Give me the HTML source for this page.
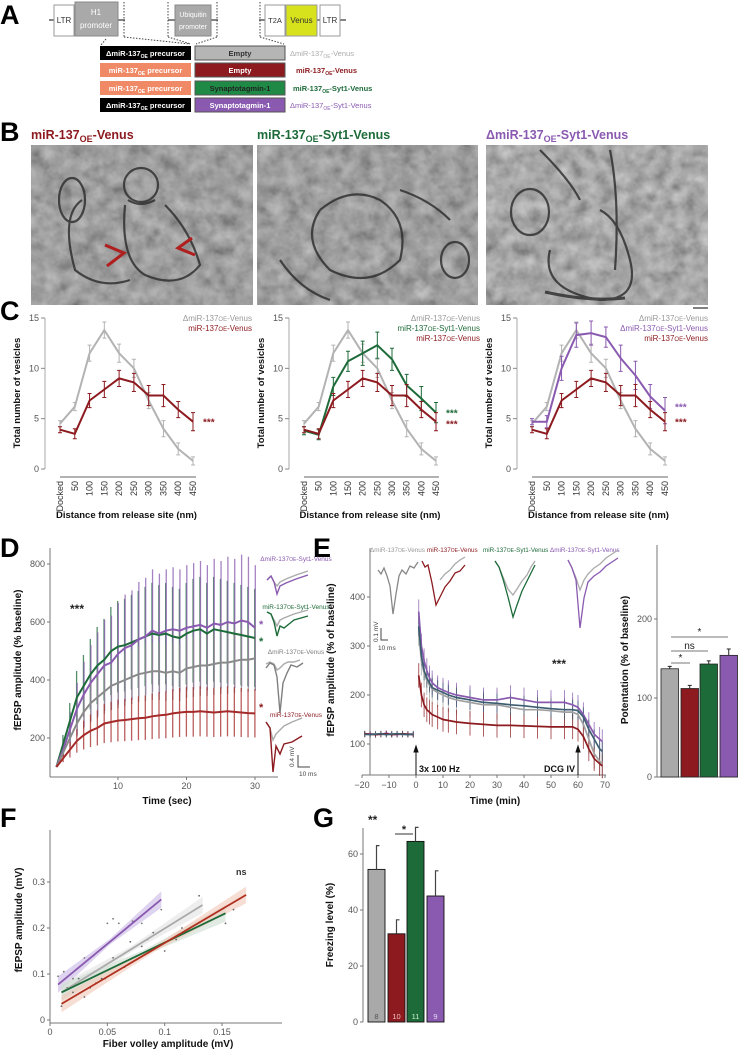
<!DOCTYPE html>
<html><head><meta charset="utf-8"><style>
html,body{margin:0;padding:0;background:#fff;}
svg{display:block;font-family:"Liberation Sans",Arial,sans-serif;}
</style></head><body>
<svg id="fig" width="738" height="1050" viewBox="0 0 738 1050" xmlns="http://www.w3.org/2000/svg">
<defs>
<filter id="em" x="0" y="0" width="100%" height="100%">
<feTurbulence type="fractalNoise" baseFrequency="0.07" numOctaves="3" seed="4"/>
<feColorMatrix type="matrix" values="0.33 0.33 0.33 0 0 0.33 0.33 0.33 0 0 0.33 0.33 0.33 0 0 0 0 0 0 1"/>
<feComponentTransfer><feFuncR type="linear" slope="1.3" intercept="-0.08"/><feFuncG type="linear" slope="1.3" intercept="-0.08"/><feFuncB type="linear" slope="1.3" intercept="-0.08"/><feFuncA type="linear" slope="0" intercept="1"/></feComponentTransfer>
</filter>
</defs>
<rect width="738" height="1050" fill="#fff"/>

<g font-weight="bold" font-size="27" fill="#000">
<text x="0" y="24">A</text>
<text x="0" y="141">B</text>
<text x="0" y="320">C</text>
<text x="0" y="557">D</text>
<text x="313" y="557">E</text>
<text x="0" y="827">F</text>
<text x="313" y="827">G</text>
</g>

<g>
<g stroke="#333" stroke-width="1.2">
<line x1="49" y1="20" x2="54" y2="20"/><line x1="118" y1="20" x2="125" y2="20"/>
<line x1="168" y1="20" x2="175" y2="20"/><line x1="211" y1="20" x2="218" y2="20"/>
<line x1="259" y1="20" x2="265" y2="20"/><line x1="285" y1="20" x2="286" y2="20"/>
<line x1="317" y1="20" x2="320" y2="20"/><line x1="340" y1="20" x2="346" y2="20"/>
</g>
<rect x="54" y="5" width="20" height="31" fill="#fff" stroke="#999"/>
<text x="64" y="23" font-size="8" text-anchor="middle" fill="#333">LTR</text>
<rect x="75" y="2" width="43" height="34" fill="#a9a9a9" stroke="#888"/>
<text x="96" y="15" font-size="8" text-anchor="middle" fill="#fff">H1</text>
<text x="96" y="28" font-size="8" text-anchor="middle" fill="#fff">promoter</text>
<rect x="175" y="5" width="36" height="31" fill="#a9a9a9" stroke="#888"/>
<text x="193" y="17" font-size="7" text-anchor="middle" fill="#fff">Ubiquitin</text>
<text x="193" y="29" font-size="7" text-anchor="middle" fill="#fff">promoter</text>
<rect x="265" y="5" width="20" height="31" fill="#fff" stroke="#999"/>
<text x="275" y="23" font-size="7.5" text-anchor="middle" fill="#333">T2A</text>
<rect x="286" y="5" width="31" height="31" fill="#d8e21c" stroke="#999"/>
<text x="301.5" y="23" font-size="8" text-anchor="middle" fill="#333">Venus</text>
<rect x="320" y="5" width="20" height="31" fill="#fff" stroke="#999"/>
<text x="330" y="23" font-size="8" text-anchor="middle" fill="#333">LTR</text>
<g stroke="#444" stroke-dasharray="1.5,1.5" fill="none">
<line x1="124" y1="2" x2="124" y2="37"/><line x1="168" y1="2" x2="168" y2="37"/><line x1="217" y1="2" x2="217" y2="37"/><line x1="260" y1="2" x2="260" y2="37"/>
<line x1="106" y1="39" x2="101" y2="45"/><line x1="124" y1="37" x2="190" y2="44"/>
<line x1="168" y1="37" x2="191" y2="44"/><line x1="217" y1="37" x2="196" y2="44"/>
<line x1="260" y1="37" x2="284" y2="44"/>
</g>
<g font-size="7.5" font-weight="bold">
<rect x="100" y="46" width="91" height="14" fill="#000"/>
<text x="145.5" y="56" text-anchor="middle" fill="#fff">ΔmiR-137<tspan font-size="5" dy="2">OE</tspan><tspan dy="-2"> precursor</tspan></text>
<rect x="195" y="46" width="90" height="14" fill="#b5b5b5" stroke="#555"/>
<text x="240" y="56" text-anchor="middle" fill="#333">Empty</text>
<text x="290" y="56" fill="#aaa" font-weight="normal">ΔmiR-137<tspan font-size="5" dy="2">OE</tspan><tspan dy="-2">-Venus</tspan></text>

<rect x="100" y="63" width="91" height="14" fill="#f08a66"/>
<text x="145.5" y="73" text-anchor="middle" fill="#fff">miR-137<tspan font-size="5" dy="2">OE</tspan><tspan dy="-2"> precursor</tspan></text>
<rect x="195" y="63" width="90" height="14" fill="#8c1a1f" stroke="#555"/>
<text x="240" y="73" text-anchor="middle" fill="#fff">Empty</text>
<text x="296" y="73" fill="#8c1a1f">miR-137<tspan font-size="5" dy="2">OE</tspan><tspan dy="-2">-Venus</tspan></text>

<rect x="100" y="81" width="91" height="14" fill="#f08a66"/>
<text x="145.5" y="91" text-anchor="middle" fill="#fff">miR-137<tspan font-size="5" dy="2">OE</tspan><tspan dy="-2"> precursor</tspan></text>
<rect x="195" y="81" width="90" height="14" fill="#1f8a46" stroke="#555"/>
<text x="240" y="91" text-anchor="middle" fill="#222">Synaptotagmin-1</text>
<text x="293" y="91" fill="#1e6b3a">miR-137<tspan font-size="5" dy="2">OE</tspan><tspan dy="-2">-Syt1-Venus</tspan></text>

<rect x="100" y="98" width="91" height="14" fill="#000"/>
<text x="145.5" y="108" text-anchor="middle" fill="#fff">ΔmiR-137<tspan font-size="5" dy="2">OE</tspan><tspan dy="-2"> precursor</tspan></text>
<rect x="195" y="98" width="90" height="14" fill="#8a5ab0" stroke="#555"/>
<text x="240" y="108" text-anchor="middle" fill="#fff">Synaptotagmin-1</text>
<text x="290" y="108" fill="#8a5ab0" font-weight="normal">ΔmiR-137<tspan font-size="5" dy="2">OE</tspan><tspan dy="-2">-Syt1-Venus</tspan></text>
</g>
</g>

<g font-size="12.5" font-weight="bold">
<text x="31" y="139" fill="#8c1a1f">miR-137<tspan font-size="9" dy="3">OE</tspan><tspan dy="-3">-Venus</tspan></text>
<text x="257" y="139" fill="#1e6b3a">miR-137<tspan font-size="9" dy="3">OE</tspan><tspan dy="-3">-Syt1-Venus</tspan></text>
<text x="486" y="139" fill="#8a5ab0">ΔmiR-137<tspan font-size="9" dy="3">OE</tspan><tspan dy="-3">-Syt1-Venus</tspan></text>
<rect x="31" y="145" width="222" height="160" filter="url(#em)"/>
<rect x="257" y="145" width="221" height="160" filter="url(#em)"/>
<rect x="486" y="145" width="222" height="160" filter="url(#em)"/>
<rect x="31" y="145" width="222" height="160" fill="#4a4a4a" opacity="0.32"/>
<rect x="257" y="145" width="221" height="160" fill="#4a4a4a" opacity="0.32"/>
<rect x="486" y="145" width="222" height="160" fill="#4a4a4a" opacity="0.25"/>
<g fill="none" stroke="#2a2a2a" stroke-width="2.2" opacity="0.8">
<circle cx="141" cy="185" r="17"/><path d="M128 200 Q 140 208 155 200"/><path d="M82 200 Q 60 215 75 270 Q 100 290 130 280"/>
<path d="M125 205 Q 120 260 145 275 Q 180 290 200 265 Q 190 230 165 205"/><ellipse cx="72" cy="200" rx="13" ry="22"/>
<path d="M320 210 Q 300 240 330 270 Q 370 290 400 260 Q 410 220 380 200 Q 350 185 320 210"/><ellipse cx="455" cy="260" rx="14" ry="18"/>
<path d="M280 260 Q 300 290 330 300"/><path d="M400 190 Q 430 200 450 220"/>
<ellipse cx="530" cy="212" rx="19" ry="23"/><path d="M550 250 Q 540 290 600 300 Q 640 300 630 260 Q 620 220 600 210"/>
<path d="M545 292 Q 590 302 625 298" stroke-width="3"/><path d="M610 150 Q 620 200 615 270"/><path d="M540 150 Q 570 180 580 200"/>
</g>
<g stroke="#b01e1e" stroke-width="3" fill="none">
<path d="M105 245 L 124 253 L 107 266"/><path d="M192 238 L 178 248 L 195 255"/>
</g>
<line x1="693" y1="308" x2="708" y2="308" stroke="#555" stroke-width="1.5"/>
</g>

<g id="plots"></g>
</svg>
<script>
// ===== Panel C data =====
const cCategories = ["Docked","50","100","150","200","250","300","350","400","450"];
const cGray   = [4.5, 6.2, 11.5, 13.8, 11.5, 10.0, 6.8, 4.0, 2.0, 0.8];
const cGrayErr= [0.3, 0.4, 0.8, 0.8, 0.9, 0.9, 0.8, 0.8, 0.6, 0.4];
const cRed    = [3.9, 3.5, 6.8, 7.9, 9.0, 8.6, 7.3, 7.3, 5.9, 4.7];
const cRedErr = [0.3, 0.5, 0.7, 0.8, 0.8, 0.9, 1.0, 1.1, 0.8, 0.9];
const cGreen  = [3.8, 3.4, 8.2, 10.7, 11.5, 12.3, 10.9, 8.3, 7.0, 5.6];
const cGreenErr=[0.4, 0.5, 0.9, 1.0, 1.2, 1.3, 1.1, 1.1, 1.2, 1.0];
const cPurple = [4.7, 4.7, 10.0, 13.3, 13.5, 13.1, 11.0, 9.3, 7.2, 5.8];
const cPurpleErr=[0.3, 0.6, 1.2, 1.2, 1.2, 1.0, 1.3, 1.4, 1.2, 1.3];
const cYTicks = [0, 5, 10, 15];

// ===== Panel D data =====
const dTime = [1,2,3,4,5,6,7,8,9,10,11,12,13,14,15,16,17,18,19,20,21,22,23,24,25,26,27,28,29,30];
const dGreen  = [100,180,260,340,380,420,450,470,500,515,520,530,540,550,560,555,560,550,545,560,570,575,560,575,570,565,560,555,550,545];
const dPurple = [100,160,230,300,350,390,420,450,460,490,510,520,540,550,570,560,570,575,570,580,585,590,580,595,590,600,595,605,600,580];
const dGray   = [100,150,200,250,290,320,340,360,380,390,400,410,420,425,430,430,425,430,425,440,445,450,450,455,460,460,465,470,470,475];
const dRed    = [100,130,160,190,210,225,235,250,255,260,262,265,268,270,275,278,280,285,288,290,290,292,290,288,290,292,290,288,286,285];
const dErrFrac = [0.38, 0.45, 0.3, 0.45];
const dYTicks = [200, 400, 600, 800];
const dXTicks = [10, 20, 30];

// ===== Panel E data =====
const eTime = [-19,-17,-15,-13,-11,-9,-7,-5,-3,-1,1,2,3,4,5,6,8,10,12,15,20,25,30,35,40,45,50,55,58,60,62,64,66,68,69];
const ePurple = [120,121,119,120,122,120,119,121,120,120,370,300,270,250,235,225,215,210,205,200,195,190,190,195,190,185,185,185,180,175,160,140,120,110,105];
const eGray   = [119,120,121,119,120,121,120,119,120,121,330,270,245,230,220,212,205,200,195,190,185,180,180,175,170,170,168,165,165,160,140,110,80,65,60];
const eGreen  = [120,119,120,121,119,120,121,120,119,120,340,280,250,235,225,215,210,205,200,195,190,185,183,180,178,175,172,170,170,168,155,130,110,90,85];
const eRed    = [121,120,119,120,121,119,120,121,120,119,240,200,180,170,165,160,155,150,148,145,142,140,138,138,137,136,135,135,135,130,115,90,70,60,55];
const eErr = [30, 25, 25, 20];
const eYTicks = [100, 200, 300, 400];
const eXTicks = [-20,-10,0,10,20,30,40,50,60,70];
const potLabels = ["dmiR","miR","miR-Syt1","dmiR-Syt1"];
const potValues = [137, 112, 143, 154];
const potErr = [3, 4, 4, 8];
const potYTicks = [0, 100, 200];

// ===== Panel F data =====
const fPurpleX = [0.007,0.012,0.02,0.03,0.038,0.05,0.055,0.06,0.072,0.08,0.097];
const fPurpleY = [0.095,0.105,0.09,0.135,0.14,0.21,0.22,0.21,0.215,0.21,0.24];
const fOtherX = [0.01,0.015,0.02,0.025,0.03,0.035,0.04,0.045,0.048,0.055,0.06,0.065,0.07,0.08,0.085,0.09,0.1,0.11,0.115,0.13,0.153,0.16];
const fOtherY = [0.03,0.07,0.06,0.09,0.05,0.07,0.08,0.09,0.09,0.135,0.12,0.115,0.17,0.16,0.175,0.19,0.15,0.175,0.2,0.27,0.21,0.24];
const fLineX0 = [0.007, 0.01, 0.01, 0.01];
const fLineY0 = [0.077, 0.06, 0.06, 0.035];
const fLineX1 = [0.097, 0.133, 0.153, 0.171];
const fLineY1 = [0.262, 0.25, 0.232, 0.272];
const fXTicks = [0, 0.05, 0.1, 0.15];
const fYTicks = [0, 0.1, 0.2, 0.3];

// ===== Panel G data =====
const gValues = [54.5, 31.5, 64.5, 45];
const gErr = [8.5, 5, 5, 9];
const gN = ["8","10","11","9"];
const gYTicks = [0, 20, 40, 60];

const COL = {gray:"#b3b3b3", dgray:"#7f7f7f", red:"#8c1a1f", green:"#1e6b3a", purple:"#8a5ab0"};
const NS = "http://www.w3.org/2000/svg";
const root = document.getElementById("plots");
function mk(tag, attrs, parent) {
  const e = document.createElementNS(NS, tag);
  for (const k in attrs) e.setAttribute(k, attrs[k]);
  (parent || root).appendChild(e);
  return e;
}
function txt(x, y, s, size, parent, extra) {
  const e = mk("text", Object.assign({x:x, y:y, "font-size":size, fill:"#333"}, extra || {}), parent);
  e.textContent = s;
  return e;
}
function poly(pts) { return pts.map(p => p[0].toFixed(1) + "," + p[1].toFixed(1)).join(" "); }

function drawC(x0, x1, series, titleX, legends, legendX, starSpecs, key) {
  const g = mk("g", {});
  
  
  const xs = i => x0 + i * (x1 - x0) / (cCategories.length - 1);
  const ys = v => 469 - v * (151 / 15);
  const ax = mk("line", {x1:x0-15, y1:318, x2:x0-15, y2:469, stroke:"#aaa"}, g);
  
  
  cYTicks.forEach(v => {
    const t = mk("line", {x1:x0-19, y1:ys(v), x2:x0-15, y2:ys(v), stroke:"#888"}, g);
    
    
    const l = txt(x0-21, ys(v)+3, String(v), 9, g, {"text-anchor":"end", fill:"#555"});
    
    
  });
  const xa = mk("line", {x1:x0, y1:477, x2:x1+3, y2:477, stroke:"#999", "stroke-width":1.5}, g);
  
  
  cCategories.forEach((c, i) => {
    const l = txt(0, 0, c, 9, g, {transform:`translate(${xs(i)+3},${481}) rotate(-90)`, "text-anchor":"end", fill:"#333"});
    
    
  });
  const xt = txt((x0+x1)/2, 518, "Distance from release site (nm)", 9.5, g, {"text-anchor":"middle", "font-weight":"bold", fill:"#111"});
  
  
  const yt = txt(0, 0, "Total number of vesicles", 9.5, g, {transform:`translate(${titleX},${393}) rotate(-90)`, "text-anchor":"middle", "font-weight":"bold", fill:"#111"});
  
  
  series.forEach(s => {
    const sg = mk("g", {}, g);
    
    
    s.vals.forEach((v, i) => {
      const e = mk("path", {d:`M${xs(i)},${ys(v-s.err[i])}V${ys(v+s.err[i])}M${xs(i)-2},${ys(v-s.err[i])}h4M${xs(i)-2},${ys(v+s.err[i])}h4`, stroke:s.col, "stroke-width":1, fill:"none"}, sg);
      
      
    });
    const pl = mk("polyline", {points:poly(s.vals.map((v,i)=>[xs(i),ys(v)])), fill:"none", stroke:s.col, "stroke-width":2}, sg);
    
    
  });
  legends.forEach((L, i) => {
    const t = txt(legendX, 321 + i*10, "", 8, g, {"text-anchor":"end", fill:L.col});
    t.innerHTML = L.pre + 'miR-137<tspan font-size="6">OE</tspan>' + L.post;
    
    
  });
  starSpecs.forEach(s => {
    const t = txt(x1+10, ys(s.v)+4, "***", 10, g, {fill:s.col, "font-weight":"bold"});
    
    
  });
}
const sGray = {name:"dmir-venus", vals:cGray, err:cGrayErr, col:COL.gray};
const sRed = {name:"mir-venus", vals:cRed, err:cRedErr, col:COL.red};
const sGreen = {name:"mir-syt1-venus", vals:cGreen, err:cGreenErr, col:COL.green};
const sPurple = {name:"dmir-syt1-venus", vals:cPurple, err:cPurpleErr, col:COL.purple};
const LG = {pre:"Δ", post:"-Venus", col:"#999"}, LR = {pre:"", post:"-Venus", col:COL.red};
drawC(60, 193, [sGray, sRed], 20, [LG, LR], 252, [{v:cRed[9], col:COL.red}], "1");
drawC(304, 436, [sGray, sGreen, sRed], 264, [LG, {pre:"", post:"-Syt1-Venus", col:COL.green}, LR], 480, [{v:cGreen[9], col:COL.green},{v:cRed[9]-0.2, col:COL.red}], "2");
drawC(532, 665, [sGray, sPurple, sRed], 492, [LG, {pre:"Δ", post:"-Syt1-Venus", col:COL.purple}, LR], 708, [{v:cPurple[9]+0.4, col:COL.purple},{v:cRed[9], col:COL.red}], "3");

(function(){
  const g = mk("g", {});
  
  
  const xs = t => 49.5 + 6.85 * t;
  const ys = v => 767 - (v - 100) * 0.29;
  const ya = mk("line", {x1:50, y1:548, x2:50, y2:777, stroke:"#777"}, g);
  
  
  const xa = mk("line", {x1:50, y1:777, x2:278, y2:777, stroke:"#777"}, g);
  
  
  dYTicks.forEach(v => {
    const t = mk("line", {x1:47, y1:ys(v), x2:50, y2:ys(v), stroke:"#777"}, g);
    
    
    const l = txt(45, ys(v)+3, String(v), 9, g, {"text-anchor":"end", fill:"#555"});
    
    
  });
  dXTicks.forEach(v => {
    const t = mk("line", {x1:xs(v), y1:777, x2:xs(v), y2:780, stroke:"#777"}, g);
    
    
    const l = txt(xs(v), 789, String(v), 9, g, {"text-anchor":"middle", fill:"#555"});
    
    
  });
  const xt = txt(167, 804, "Time (sec)", 10, g, {"text-anchor":"middle", "font-weight":"bold", fill:"#111"});
  
  
  const yt = txt(0, 0, "fEPSP amplitude (% baseline)", 10, g, {transform:"translate(21,660) rotate(-90)", "text-anchor":"middle", "font-weight":"bold", fill:"#111"});
  
  
  const ser = [{n:"green", v:dGreen, c:COL.green, dx:-0.3},{n:"purple", v:dPurple, c:COL.purple, dx:0.3},{n:"gray", v:dGray, c:"#8a8a8a", dx:0.1},{n:"red", v:dRed, c:"#a52a2a", dx:-0.1}];
  ser.forEach((s, k) => {
    const sg = mk("g", {opacity:0.95}, g);
    
    
    s.v.forEach((v, i) => {
      const e = (v - 100) * dErrFrac[k];
      const b = mk("line", {x1:xs(dTime[i])+s.dx, y1:ys(v-e), x2:xs(dTime[i])+s.dx, y2:ys(v+e), stroke:s.c, "stroke-width":1.3, opacity:0.8}, sg);
      
      
    });
  });
  ser.forEach(s => {
    const pl = mk("polyline", {points:poly(s.v.map((v,i)=>[xs(dTime[i]),ys(v)])), fill:"none", stroke:s.c, "stroke-width":2}, g);
    
    
  });
  const st = txt(70, 613, "***", 12, g, {"font-weight":"bold", fill:"#222"});
  
  
  const tr = [
    {lab:"ΔmiR-137OE-Syt1-Venus", y:561, c:COL.purple, sy:628, sc:COL.purple, d:"M267 580 l4 -4 l3 6 l3 12 l3 -8 l6 -3 l10 -4 l12 -4", g:"M267 580 l4 -4 l3 6 l3 4 l3 -4 l6 -3 l10 -4 l12 -4"},
    {lab:"miR-137OE-Syt1-Venus", y:609, c:COL.green, sy:645, sc:COL.green, d:"M267 612 l4 2 l3 8 l3 14 l3 -10 l4 2 l10 -8 l14 -4", g:"M267 612 l4 2 l3 6 l3 6 l3 -6 l4 -2 l10 -4 l14 -4"},
    {lab:"ΔmiR-137OE-Venus", y:654, c:"#7f7f7f", sy:0, sc:"", d:"M266 668 l4 -5 l4 2 l3 12 l3 36 l3 -30 l4 -10 l4 -8 l6 2 l6 -4", g:"M266 664 l4 -2 l4 2 l3 6 l3 -2 l4 -4 l4 -2 l6 0 l6 -2"},
    {lab:"miR-137OE-Venus", y:717, c:COL.red, sy:711, sc:COL.red, d:"M266 722 l4 6 l3 44 l3 -26 l4 8 l4 -10 l8 -2 l10 -6", g:"M266 722 l4 6 l3 12 l3 -6 l4 -4 l4 -4 l8 -4 l10 -4"}
  ];
  tr.forEach(t => {
    const l = txt(296, t.y, "", 6.5, g, {"text-anchor":"middle", fill:t.c});
    l.innerHTML = t.lab.replace("OE", '<tspan font-size="5">OE</tspan>');
    
    
    const p1 = mk("path", {d:t.g, fill:"none", stroke:"#aaa", "stroke-width":1.4}, g);
    
    
    const p2 = mk("path", {d:t.d, fill:"none", stroke:t.c, "stroke-width":1.4}, g);
    
    
    if (t.sy) {
      const s = txt(259, t.sy, "*", 11, g, {fill:t.sc, "font-weight":"bold"});
      
      
    }
  });
  const sb = mk("path", {d:"M298 755 V767 H310", fill:"none", stroke:"#444"}, g);
  
  
  const s1 = txt(0, 0, "0.4 mV", 6.5, g, {transform:"translate(294,767) rotate(-90)", fill:"#444"});
  
  
  const s2 = txt(299, 776, "10 ms", 6.5, g, {fill:"#444"});
  
  
})();

(function(){
  const g = mk("g", {});
  
  
  const xs = t => 416 + 2.7 * t;
  const ys = v => 793 - 0.49 * v;
  const ya = mk("line", {x1:370, y1:548, x2:370, y2:775, stroke:"#777"}, g);
  
  
  const xa = mk("line", {x1:362, y1:775, x2:606, y2:775, stroke:"#777"}, g);
  
  
  eYTicks.forEach(v => {
    const t = mk("line", {x1:367, y1:ys(v), x2:370, y2:ys(v), stroke:"#777"}, g);
    
    
    const l = txt(365, ys(v)+3, String(v), 9, g, {"text-anchor":"end", fill:"#555"});
    
    
  });
  eXTicks.forEach(v => {
    const t = mk("line", {x1:xs(v), y1:775, x2:xs(v), y2:778, stroke:"#777"}, g);
    
    
    const l = txt(xs(v), 788, String(v).replace("-", "−"), 9, g, {"text-anchor":"middle", fill:"#555"});
    
    
  });
  const xt = txt(495, 804, "Time (min)", 10, g, {"text-anchor":"middle", "font-weight":"bold", fill:"#111"});
  
  
  const yt = txt(0, 0, "fEPSP amplitude (% of baseline)", 10, g, {transform:"translate(334,660) rotate(-90)", "text-anchor":"middle", "font-weight":"bold", fill:"#111"});
  
  
  const ser = [{n:"gray", v:eGray, c:"#a0a0a0"},{n:"purple", v:ePurple, c:COL.purple},{n:"red", v:eRed, c:COL.red},{n:"green", v:eGreen, c:"#3c5e70"}];
  ser.forEach((s, k) => {
    s.v.forEach((v, i) => {
      const e = eTime[i] < 0 ? 6 : eErr[k];
      const b = mk("line", {x1:xs(eTime[i]), y1:ys(v-e), x2:xs(eTime[i]), y2:ys(v+e), stroke:s.c, "stroke-width":1, opacity:0.7}, g);
      
      
    });
  });
  ser.forEach(s => {
    const base = s.v.map((v,i)=>[xs(eTime[i]),ys(v)]);
    const pre = base.filter((p,i)=>eTime[i]<0), post = base.filter((p,i)=>eTime[i]>0);
    [pre, post].forEach(pts => {
      const pl = mk("polyline", {points:poly(pts), fill:"none", stroke:s.c, "stroke-width":1.7}, g);
      
      
    });
  });
  const labs = [["ΔmiR-137", "-Venus", "#999", 370],["miR-137","-Venus",COL.red,427],["miR-137","-Syt1-Venus",COL.green,483],["ΔmiR-137","-Syt1-Venus",COL.purple,550]];
  labs.forEach(L => {
    const t = txt(L[3], 552, "", 6.3, g, {fill:L[2]});
    t.innerHTML = L[0] + '<tspan font-size="5">OE</tspan>' + L[1];
    
    
  });
  const trs = [
    {c:"#888", d:"M378 570 l3 4 l3 -6 l3 8 l3 10 l3 28 l3 -20 l3 -18 l3 -6 l4 4 l4 -8 l4 2 l4 -6", g:""},
    {c:COL.red, d:"M422 561 l3 6 l3 -2 l4 18 l4 22 l4 -8 l5 -10 l5 -6 l5 -8 l5 -2 l5 -6", g:"M440 580 l5 -6 l5 -4 l5 -6 l5 -4 l5 -3"},
    {c:COL.green, d:"M495 561 l4 6 l4 12 l5 18 l5 20 l4 -12 l5 -14 l5 -10 l4 -8 l4 -8", g:"M495 561 l4 6 l4 10 l5 12 l5 6 l4 -6 l5 -8 l5 -6 l4 -8 l4 -6"},
    {c:COL.purple, d:"M568 560 l4 8 l4 12 l4 48 l4 -30 l4 -16 l6 -6 l6 -4 l6 -6 l6 -4 l6 -4", g:"M568 560 l4 8 l4 10 l4 12 l4 -10 l4 -6 l6 -6 l6 -4 l6 -6 l6 -4 l6 -4"}
  ];
  trs.forEach(t => {
    if (t.g) {
      const p = mk("path", {d:t.g, fill:"none", stroke:"#aaa", "stroke-width":1.3}, g);
      
      
    }
    const p = mk("path", {d:t.d, fill:"none", stroke:t.c, "stroke-width":1.3}, g);
    
    
  });
  const sb = mk("path", {d:"M381 628 V640 H388", fill:"none", stroke:"#444"}, g);
  
  
  const s1 = txt(0, 0, "0.1 mV", 6.5, g, {transform:"translate(378,642) rotate(-90)", fill:"#444"});
  
  
  const s2 = txt(378, 650, "10 ms", 6.5, g, {fill:"#444"});
  
  
  const st = txt(552, 668, "***", 12, g, {"font-weight":"bold", fill:"#222"});
  
  
  [[0,"3x 100 Hz",419,"start"],[60,"DCG IV",575,"end"]].forEach(a => {
    const ar = mk("path", {d:`M${xs(a[0])} 775 V747 M${xs(a[0])-2} 752 L${xs(a[0])} 746 L${xs(a[0])+2} 752 Z`, stroke:"#111", fill:"#111"}, g);
    
    
    const t = txt(a[2], 772, a[1], 9, g, {"font-weight":"bold", fill:"#111", "text-anchor":a[3]});
    
    
  });

  const bg = mk("g", {}, g);
  
  
  const yb = v => 777 - 0.79 * v;
  const bx = [661, 681, 700, 720], bw = 17.5;
  const bc = ["#a9a9a9", COL.red, COL.green, COL.purple];
  const ya2 = mk("line", {x1:657, y1:545, x2:657, y2:777, stroke:"#777"}, bg);
  
  
  const xa2 = mk("line", {x1:657, y1:777, x2:738, y2:777, stroke:"#777"}, bg);
  
  
  potYTicks.forEach(v => {
    const t = mk("line", {x1:654, y1:yb(v), x2:657, y2:yb(v), stroke:"#777"}, bg);
    
    
    const l = txt(652, yb(v)+3, String(v), 9, bg, {"text-anchor":"end", fill:"#555"});
    
    
  });
  const yt2 = txt(0, 0, "Potentation (% of baseline)", 10, bg, {transform:"translate(628,660) rotate(-90)", "text-anchor":"middle", "font-weight":"bold", fill:"#111"});
  
  
  potValues.forEach((v, i) => {
    const r = mk("rect", {x:bx[i], y:yb(v), width:bw, height:yb(0)-yb(v), fill:bc[i], stroke:"#222", "stroke-width":0.8}, bg);
    
    
    const e = mk("path", {d:`M${bx[i]+bw/2} ${yb(v)} V${yb(v+potErr[i])} M${bx[i]+bw/2-2} ${yb(v+potErr[i])} h4`, stroke:"#222", fill:"none"}, bg);
    
    
  });
  [[671,728,637,"*"],[671,708,651,"ns"],[671,690,663,"*"]].forEach(s => {
    const l = mk("line", {x1:s[0], y1:s[2], x2:s[1], y2:s[2], stroke:"#777"}, bg);
    
    
    const t = txt((s[0]+s[1])/2, s[2]-2, s[3], 10, bg, {"text-anchor":"middle", fill:"#222"});
    
    
  });
})();

(function(){
  const g = mk("g", {});
  
  
  const xs = v => 50 + 1147 * v;
  const ys = v => 1020 - 460 * v;
  const ya = mk("line", {x1:50, y1:830, x2:50, y2:1023, stroke:"#777"}, g);
  
  
  const xa = mk("line", {x1:50, y1:1023, x2:282, y2:1023, stroke:"#777"}, g);
  
  
  fYTicks.forEach(v => {
    const t = mk("line", {x1:47, y1:ys(v), x2:50, y2:ys(v), stroke:"#777"}, g);
    
    
    const l = txt(45, ys(v)+3, String(v), 9, g, {"text-anchor":"end", fill:"#555"});
    
    
  });
  fXTicks.forEach(v => {
    const t = mk("line", {x1:xs(v), y1:1023, x2:xs(v), y2:1026, stroke:"#777"}, g);
    
    
    const l = txt(xs(v), 1035, String(v), 9, g, {"text-anchor":"middle", fill:"#555"});
    
    
  });
  const xt = txt(168, 1047, "Fiber volley amplitude (mV)", 10, g, {"text-anchor":"middle", "font-weight":"bold", fill:"#111"});
  
  
  const yt = txt(0, 0, "fEPSP amplitude (mV)", 10, g, {transform:"translate(22,920) rotate(-90)", "text-anchor":"middle", "font-weight":"bold", fill:"#111"});
  
  
  const cols = [COL.purple, "#aaaaaa", COL.green, "#b03020"];
  const band = ["#c9b8e6", "#e2e2e2", "#cdddd2", "#f1c8b8"];
  const names = ["purple","gray","green","red"];
  fLineX0.forEach((x0, i) => {
    const x1 = fLineX1[i], y0 = fLineY0[i], y1 = fLineY1[i];
    const xm = (x0 + x1) / 2, ym = (y0 + y1) / 2;
    const w = 0.018;
    const pts = [[xs(x0),ys(y0+w)],[xs(xm),ys(ym+w/3)],[xs(x1),ys(y1+w)],[xs(x1),ys(y1-w)],[xs(xm),ys(ym-w/3)],[xs(x0),ys(y0-w)]];
    const p = mk("polygon", {points:poly(pts), fill:band[i], opacity:0.6}, g);
    
    
  });
  fPurpleX.forEach((x, i) => {
    const c = mk("circle", {cx:xs(x), cy:ys(fPurpleY[i]), r:0.9, fill:"#777"}, g);
    
    
  });
  fOtherX.forEach((x, i) => {
    const c = mk("circle", {cx:xs(x), cy:ys(fOtherY[i]), r:0.9, fill:"#666"}, g);
    
    
  });
  fLineX0.forEach((x0, i) => {
    const l = mk("line", {x1:xs(x0), y1:ys(fLineY0[i]), x2:xs(fLineX1[i]), y2:ys(fLineY1[i]), stroke:cols[i], "stroke-width":1.8}, g);
    
    
  });
  const ns = txt(236, 875, "ns", 9, g, {"font-weight":"bold", fill:"#333"});
  
  
})();

(function(){
  const g = mk("g", {});
  
  
  const ys = v => 1022 - 2.8 * v;
  const bx = [368, 388, 407, 427], bw = 17;
  const bc = ["#a9a9a9", COL.red, COL.green, COL.purple];
  const nc = ["#555", "#f3c0c0", "#c8f0d0", "#e6d6f6"];
  const ya = mk("line", {x1:363, y1:828, x2:363, y2:1022, stroke:"#777"}, g);
  
  
  gYTicks.forEach(v => {
    const t = mk("line", {x1:360, y1:ys(v), x2:363, y2:ys(v), stroke:"#777"}, g);
    
    
    const l = txt(358, ys(v)+3, String(v), 9, g, {"text-anchor":"end", fill:"#555"});
    
    
  });
  const yt = txt(0, 0, "Freezing level (%)", 10, g, {transform:"translate(333,925) rotate(-90)", "text-anchor":"middle", "font-weight":"bold", fill:"#111"});
  
  
  gValues.forEach((v, i) => {
    const r = mk("rect", {x:bx[i], y:ys(v), width:bw, height:ys(0)-ys(v), fill:bc[i], stroke:"#111", "stroke-width":0.9}, g);
    
    
    const e = mk("path", {d:`M${bx[i]+bw/2} ${ys(v)} V${ys(v+gErr[i])} h3`, stroke:"#444", fill:"none", "stroke-width":1.2}, g);
    
    
    const n = txt(bx[i]+bw/2, 1019, gN[i], 7.5, g, {"text-anchor":"middle", fill:nc[i]});
    
    
  });
  const s1 = txt(368, 824, "**", 12, g, {"font-weight":"bold", fill:"#222"});
  
  
  const br = mk("line", {x1:395, y1:834, x2:413, y2:834, stroke:"#333"}, g);
  
  
  const s2 = txt(404, 833, "*", 11, g, {"text-anchor":"middle", "font-weight":"bold", fill:"#222"});
  
  
})();
</script>
</body></html>
